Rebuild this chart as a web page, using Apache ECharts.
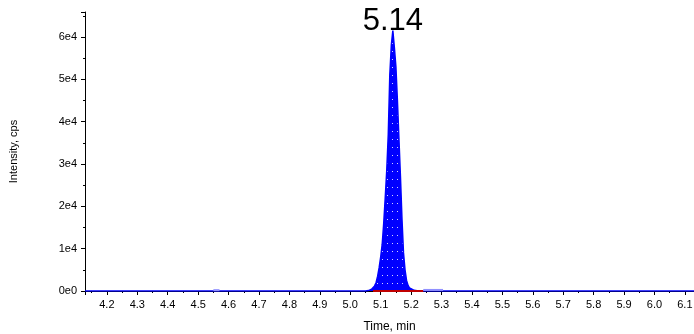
<!DOCTYPE html>
<html>
<head>
<meta charset="utf-8">
<script src="https://cdn.jsdelivr.net/npm/echarts@6/dist/echarts.min.js"></script>
<style>
  html, body { margin: 0; padding: 0; background: #fff; }
  #chart { width: 694px; height: 334px; }
</style>
</head>
<body>
<div id="chart"></div>
<script>
// chromatogram trace, time in min, intensity in cps
const traceTimes = [4.128, 5.05, 5.06, 5.07, 5.08, 5.085, 5.09, 5.095, 5.1, 5.105, 5.11, 5.115,
  5.12, 5.125, 5.13, 5.135, 5.14, 5.145, 5.15, 5.155, 5.16, 5.165, 5.17, 5.175, 5.18, 5.185,
  5.19, 5.195, 5.2, 5.21, 5.22, 5.23, 6.13];
const traceIntensity = [0, 0, 100, 400, 1200, 2000, 3500, 5500, 8000, 11000, 16000, 22000,
  28500, 37000, 51000, 58000, 61500, 57500, 53000, 45000, 36000, 27000, 17000, 9000, 5000, 2500,
  1300, 700, 400, 150, 50, 0, 0];
const peakTime = 5.14;
const peakHeight = 61500;
const peakLabel = "5.14";
// integration baseline under the peak
const baselineTimes = [5.075, 5.24];
const baselineValues = [0, 0];
// lighter trace segment after the peak and small blip
const tailTimes = [5.24, 5.305];
const tailValues = [250, 250];
const blipTimes = [4.55, 4.57];
const blipValues = [200, 200];
const yTicks = [0, 10000, 20000, 30000, 40000, 50000, 60000];

const font = "'Liberation Sans', Arial, sans-serif";

// blue fill with small white dots
const pat = document.createElement("canvas");
pat.width = 5;
pat.height = 8;
const pctx = pat.getContext("2d");
pctx.fillStyle = "#0000ff";
pctx.fillRect(0, 0, 5, 8);
pctx.fillStyle = "#d0d0ff";
pctx.fillRect(2, 3, 1, 1);

const pairs = (xs, ys) => xs.map((x, i) => [x, ys[i]]);

const chart = echarts.init(document.getElementById("chart"), null, { renderer: "canvas" });
chart.setOption({
  animation: false,
  backgroundColor: "#fff",
  grid: { left: 85, right: 0, top: 12, bottom: 43, outerBoundsMode: "none" },
  xAxis: {
    type: "value",
    min: 4.128,
    max: 6.13,
    splitNumber: 20,
    minInterval: 0.1,
    maxInterval: 0.1,
    name: "Time, min",
    nameLocation: "middle",
    nameGap: 30,
    nameTextStyle: { color: "#000", fontSize: 12, fontFamily: font },
    axisLine: { onZero: false, lineStyle: { color: "#000", width: 1 } },
    axisTick: { length: 4, lineStyle: { color: "#000" } },
    minorTick: { show: true, splitNumber: 2, length: 2, lineStyle: { color: "#000" } },
    splitLine: { show: false },
    axisLabel: {
      color: "#000",
      fontSize: 11,
      fontFamily: font,
      margin: 8,
      showMinLabel: false,
      showMaxLabel: false,
      formatter: (v) => v.toFixed(1),
    },
  },
  yAxis: {
    type: "value",
    min: 0,
    max: 65900,
    interval: yTicks[1] - yTicks[0],
    name: "Intensity, cps",
    nameLocation: "middle",
    nameGap: 66,
    nameTextStyle: { color: "#000", fontSize: 11, fontFamily: font },
    axisLine: { show: true, lineStyle: { color: "#000", width: 1 } },
    axisTick: { show: true, length: 4, lineStyle: { color: "#000" } },
    minorTick: { show: true, splitNumber: 2, length: 2, lineStyle: { color: "#000" } },
    splitLine: { show: false },
    axisLabel: {
      color: "#000",
      fontSize: 11,
      fontFamily: font,
      margin: 8,
      showMaxLabel: false,
      formatter: (v) => (v === 0 ? "0e0" : v / 10000 + "e4"),
    },
  },
  series: [
    {
      type: "line",
      data: pairs(traceTimes, traceIntensity),
      symbol: "none",
      lineStyle: { color: "#0000ff", width: 1.5 },
      areaStyle: { color: { image: pat, repeat: "repeat" }, opacity: 1 },
      markPoint: {
        symbol: "circle",
        symbolSize: 0,
        silent: true,
        data: [{ coord: [peakTime, peakHeight] }],
        label: {
          show: true,
          position: "top",
          distance: -6,
          formatter: peakLabel,
          color: "#000",
          fontSize: 31,
          fontFamily: font,
        },
      },
      z: 3,
    },
    {
      type: "line",
      data: pairs(baselineTimes, baselineValues),
      symbol: "none",
      lineStyle: { color: "#c00000", width: 2 },
      z: 4,
    },
    {
      type: "line",
      data: pairs(tailTimes, tailValues),
      symbol: "none",
      lineStyle: { color: "#9090ff", width: 2 },
      z: 4,
    },
    {
      type: "line",
      data: pairs(blipTimes, blipValues),
      symbol: "none",
      lineStyle: { color: "#9090ff", width: 2 },
      z: 4,
    },
  ],
});
</script>
</body>
</html>
